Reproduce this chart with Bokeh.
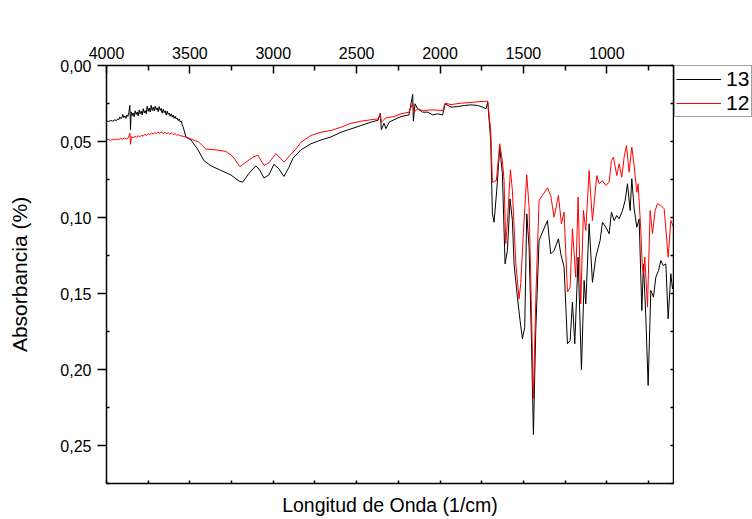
from bokeh.plotting import figure
from bokeh.layouts import row
from bokeh.models import (Range1d, LinearAxis, FixedTicker, CustomJSTickFormatter,
                          Legend, LegendItem)
from bokeh.embed import file_html
from bokeh.resources import INLINE

# FTIR spectra: wavenumber (1/cm) and absorbance for samples 13 and 12
wn_13 = [4000, 3988, 3974, 3962, 3950, 3940, 3932, 3926, 3920, 3914, 3908, 3902,
         3896, 3890, 3884, 3878, 3872, 3866, 3860, 3856, 3852, 3846, 3840, 3834,
         3828, 3822, 3816, 3810, 3804, 3798, 3792, 3786, 3780, 3774, 3768, 3762,
         3756, 3750, 3744, 3738, 3732, 3726, 3720, 3714, 3708, 3702, 3696, 3690,
         3684, 3678, 3672, 3666, 3660, 3654, 3648, 3642, 3636, 3630, 3624, 3618,
         3612, 3606, 3600, 3594, 3588, 3582, 3576, 3570, 3564, 3558, 3552, 3546,
         3540, 3524, 3494, 3454, 3416, 3374, 3314, 3254, 3206, 3184, 3146, 3104,
         3080, 3056, 3026, 2996, 2966, 2936, 2906, 2882, 2834, 2774, 2714, 2654,
         2594, 2534, 2474, 2414, 2372, 2358, 2352, 2336, 2324, 2306, 2276, 2234,
         2186, 2164, 2160, 2150, 2134, 2104, 2074, 2044, 2014, 1984, 1970, 1934,
         1894, 1854, 1814, 1774, 1744, 1724, 1714,
         1696, 1686, 1676, 1660, 1642, 1626, 1610, 1596, 1580, 1566, 1556, 1536,
         1520, 1506, 1492, 1480, 1466, 1453, 1440, 1426, 1406, 1386, 1356, 1336,
         1316, 1290, 1276, 1256, 1236, 1220, 1206, 1192, 1172, 1152, 1136, 1126,
         1106, 1086, 1066, 1040, 1026, 1006, 986, 972, 956, 940, 926, 906,
         890, 876, 860, 850, 836, 820, 806, 790, 780, 766, 752, 736,
         720, 706, 690, 676, 662, 646, 632, 616, 606, 600]
abs_13 = [0.0365, 0.0368, 0.0362, 0.0366, 0.0358, 0.0362, 0.0350, 0.0356, 0.0338, 0.0350, 0.0345, 0.0322,
          0.0342, 0.0332, 0.0348, 0.0325, 0.0335, 0.0310, 0.0262, 0.0422, 0.0305, 0.0330, 0.0312, 0.0338,
          0.0298, 0.0322, 0.0306, 0.0332, 0.0292, 0.0318, 0.0300, 0.0326, 0.0284, 0.0312, 0.0296, 0.0318,
          0.0268, 0.0302, 0.0280, 0.0306, 0.0262, 0.0296, 0.0274, 0.0298, 0.0268, 0.0292, 0.0278, 0.0304,
          0.0270, 0.0296, 0.0282, 0.0314, 0.0288, 0.0310, 0.0298, 0.0326, 0.0300, 0.0322, 0.0312, 0.0334,
          0.0318, 0.0340, 0.0326, 0.0348, 0.0334, 0.0352, 0.0345, 0.0362, 0.0352, 0.0370, 0.0366, 0.0390,
          0.0405, 0.0470, 0.0490, 0.0550, 0.0625, 0.0660, 0.0690, 0.0720, 0.0760, 0.0768, 0.0710, 0.0660,
          0.0690, 0.0740, 0.0720, 0.0650, 0.0680, 0.0730, 0.0670, 0.0610, 0.0555, 0.0515, 0.0490, 0.0470,
          0.0439, 0.0417, 0.0395, 0.0373, 0.0360, 0.0314, 0.0423, 0.0380, 0.0415, 0.0373, 0.0357, 0.0336,
          0.0325, 0.0190, 0.0366, 0.0252, 0.0285, 0.0307, 0.0307, 0.0325, 0.0318, 0.0325, 0.0252, 0.0274,
          0.0270, 0.0263, 0.0259, 0.0263, 0.0274, 0.0285, 0.0240,
          0.0493, 0.0976, 0.1031, 0.0822, 0.0540, 0.0713, 0.1305, 0.1217, 0.0877, 0.1020, 0.1305, 0.1524,
          0.1678, 0.1798, 0.1722, 0.0976, 0.1195, 0.1743, 0.2428, 0.1743, 0.1151, 0.1097, 0.1020, 0.1239,
          0.1217, 0.1140, 0.1239, 0.1327, 0.1831, 0.1809, 0.1557, 0.1831, 0.1261, 0.2002, 0.1414, 0.1568,
          0.1041, 0.1426, 0.1261, 0.1151, 0.1031, 0.1064, 0.1107, 0.0965, 0.1020, 0.0987, 0.1009, 0.0954,
          0.0888, 0.0778, 0.0954, 0.0745, 0.0943, 0.1064, 0.1009, 0.1612, 0.1305, 0.1656, 0.2105, 0.1480,
          0.1524, 0.1393, 0.1349, 0.1283, 0.1316, 0.1305, 0.1666, 0.1370, 0.1469, 0.1436]

wn_12 = [4000, 3988, 3976, 3964, 3952, 3940, 3928, 3916, 3904, 3892, 3880, 3868,
         3860, 3856, 3850, 3840, 3830, 3820, 3810, 3800, 3790, 3780, 3770, 3760,
         3750, 3740, 3730, 3720, 3710, 3700, 3690, 3680, 3670, 3660, 3650, 3640,
         3630, 3620, 3610, 3600, 3590, 3580, 3570, 3560, 3542, 3506, 3482, 3446,
         3404, 3344, 3284, 3242, 3200, 3164, 3122, 3092, 3056, 3026, 2984, 2936,
         2900, 2864, 2834, 2774, 2714, 2654, 2594, 2534, 2474, 2414, 2372, 2358,
         2352, 2324, 2276, 2234, 2186, 2164, 2156, 2134, 2104, 2044, 1984, 1970,
         1934, 1874, 1814, 1754, 1714,
         1696, 1686, 1662, 1642, 1626, 1616, 1606, 1596, 1578, 1566, 1546, 1526,
         1516, 1500, 1480, 1466, 1453, 1440, 1426, 1406, 1386, 1356, 1336, 1316,
         1290, 1272, 1256, 1236, 1220, 1206, 1186, 1172, 1156, 1140, 1126, 1106,
         1086, 1060, 1046, 1026, 1006, 986, 972, 960, 940, 926, 910, 896,
         882, 866, 850, 836, 820, 812, 796, 787, 780, 772, 756, 740,
         726, 710, 696, 676, 656, 632, 616, 600]
abs_12 = [0.0490, 0.0487, 0.0492, 0.0486, 0.0489, 0.0483, 0.0487, 0.0480, 0.0484, 0.0477, 0.0482, 0.0474,
          0.0445, 0.0518, 0.0468, 0.0476, 0.0466, 0.0472, 0.0462, 0.0469, 0.0458, 0.0465, 0.0452, 0.0460,
          0.0447, 0.0456, 0.0443, 0.0452, 0.0440, 0.0449, 0.0438, 0.0447, 0.0436, 0.0448, 0.0438, 0.0450,
          0.0442, 0.0452, 0.0444, 0.0455, 0.0448, 0.0458, 0.0455, 0.0462, 0.0465, 0.0478, 0.0488, 0.0505,
          0.0550, 0.0555, 0.0565, 0.0600, 0.0665, 0.0636, 0.0603, 0.0590, 0.0658, 0.0640, 0.0580, 0.0636,
          0.0590, 0.0550, 0.0505, 0.0460, 0.0439, 0.0428, 0.0406, 0.0380, 0.0366, 0.0357, 0.0351, 0.0318,
          0.0373, 0.0344, 0.0336, 0.0318, 0.0307, 0.0248, 0.0307, 0.0285, 0.0296, 0.0292, 0.0296, 0.0248,
          0.0257, 0.0248, 0.0243, 0.0237, 0.0235,
          0.0428, 0.0768, 0.0757, 0.0515, 0.0625, 0.0757, 0.1171, 0.1031, 0.0686, 0.0822, 0.1294, 0.1535,
          0.1436, 0.1100, 0.0719, 0.0932, 0.1546, 0.2193, 0.1546, 0.0888, 0.0855, 0.0805, 0.0855, 0.0998,
          0.0855, 0.1041, 0.0965, 0.1490, 0.1459, 0.1074, 0.1393, 0.0866, 0.1568, 0.0954, 0.1086, 0.0691,
          0.1020, 0.0724, 0.0778, 0.0757, 0.0789, 0.0768, 0.0625, 0.0603, 0.0724, 0.0647, 0.0735, 0.0603,
          0.0526, 0.0702, 0.0537, 0.0658, 0.0834, 0.0778, 0.1086, 0.1327, 0.1370, 0.1261, 0.1590, 0.0954,
          0.1107, 0.0954, 0.0910, 0.0921, 0.0943, 0.1261, 0.1020, 0.1064]

series_names = ["13", "12"]
series_colors = ["black", "#ff0000"]
series_data = [(wn_13, abs_13), (wn_12, abs_12)]

x_major = [4000, 3500, 3000, 2500, 2000, 1500, 1000]
x_minor = [3750, 3250, 2750, 2250, 1750, 1250, 750]
y_major = [0.0, 0.05, 0.10, 0.15, 0.20, 0.25]
y_minor = [0.025, 0.075, 0.125, 0.175, 0.225, 0.275]

FONT = "Liberation Sans"

p = figure(width=674, height=519, output_backend="svg", toolbar_location=None,
           x_range=Range1d(4000, 600), y_range=Range1d(0.275, 0.0),
           x_axis_location="above",
           min_border_left=106, min_border_right=1, min_border_top=65, min_border_bottom=36)
p.grid.visible = False
p.outline_line_color = None
p.background_fill_color = "white"
p.border_fill_color = "white"

xt = FixedTicker(ticks=x_major, minor_ticks=x_minor)
yt = FixedTicker(ticks=y_major, minor_ticks=y_minor)
comma_fmt = CustomJSTickFormatter(code="return tick.toFixed(2).replace('.', ',');")
blank_fmt = CustomJSTickFormatter(code="return '';")

# top axis with wavenumber labels
top = p.xaxis[0]
top.ticker = xt
top.major_tick_in = 8
top.major_tick_out = 0
top.minor_tick_in = 5
top.minor_tick_out = 0
top.major_label_standoff = 7
top.major_label_text_font = FONT
top.major_label_text_font_size = "16px"
top.major_label_text_color = "black"

# left axis with absorbance labels
left = p.yaxis[0]
left.ticker = yt
left.formatter = comma_fmt
left.major_tick_in = 0
left.major_tick_out = 9
left.minor_tick_in = 3
left.minor_tick_out = 0
left.major_label_standoff = 6
left.major_label_text_font = FONT
left.major_label_text_font_size = "16px"
left.major_label_text_color = "black"
left.axis_label = "Absorbancia (%)"
left.axis_label_text_font = FONT
left.axis_label_text_font_size = "21px"
left.axis_label_text_font_style = "normal"
left.axis_label_text_color = "black"
left.axis_label_standoff = 26

# bottom axis: ticks only plus the axis title
bottom = LinearAxis(ticker=xt, formatter=blank_fmt,
                    major_tick_in=3, major_tick_out=0, minor_tick_in=3, minor_tick_out=0,
                    major_label_text_font_size="0px", major_label_standoff=0,
                    axis_label="Longitud de Onda (1/cm)", axis_label_text_font=FONT,
                    axis_label_text_font_size="19.5px", axis_label_text_font_style="normal",
                    axis_label_text_color="black", axis_label_standoff=10)
p.add_layout(bottom, "below")

# right axis: ticks only
right = LinearAxis(ticker=yt, formatter=blank_fmt,
                   major_tick_in=3, major_tick_out=0, minor_tick_in=3, minor_tick_out=0,
                   major_label_text_font_size="0px", major_label_standoff=0)
p.add_layout(right, "right")

for ax in [top, left, bottom, right]:
    ax.axis_line_color = "black"
    ax.axis_line_width = 1.5
    ax.major_tick_line_color = "black"
    ax.major_tick_line_width = 1.5
    ax.minor_tick_line_color = "black"
    ax.minor_tick_line_width = 1.5

for (wn, ab), c in zip(series_data, series_colors):
    p.line(wn, ab, line_color=c, line_width=1)

# narrow strip to the right of the spectra that carries the legend.
# The same series are attached to it (outside its ranges) only to supply legend keys.
lf = figure(width=78, height=519, output_backend="svg", toolbar_location=None,
            x_axis_type=None, y_axis_type=None,
            min_border_left=0, min_border_right=0, min_border_top=65, min_border_bottom=36,
            x_range=Range1d(0, 1), y_range=Range1d(0, 1))
lf.grid.visible = False
lf.outline_line_color = None
lf.background_fill_color = "white"
lf.border_fill_color = "white"
keys = [lf.line(wn, ab, line_color=c, line_width=1) for (wn, ab), c in zip(series_data, series_colors)]

legend = Legend(items=[LegendItem(label=n, renderers=[k]) for n, k in zip(series_names, keys)],
                location="top_left",
                label_text_font=FONT, label_text_font_size="21px", label_text_color="black",
                glyph_width=45, glyph_height=24, label_height=24, label_width=24,
                label_standoff=5, padding=1, spacing=0, margin=0,
                border_line_color="#444444", border_line_width=1,
                background_fill_color="white", background_fill_alpha=1.0)
lf.add_layout(legend)

layout = row(p, lf, spacing=0)
open("out.html", "w").write(file_html(layout, INLINE))
